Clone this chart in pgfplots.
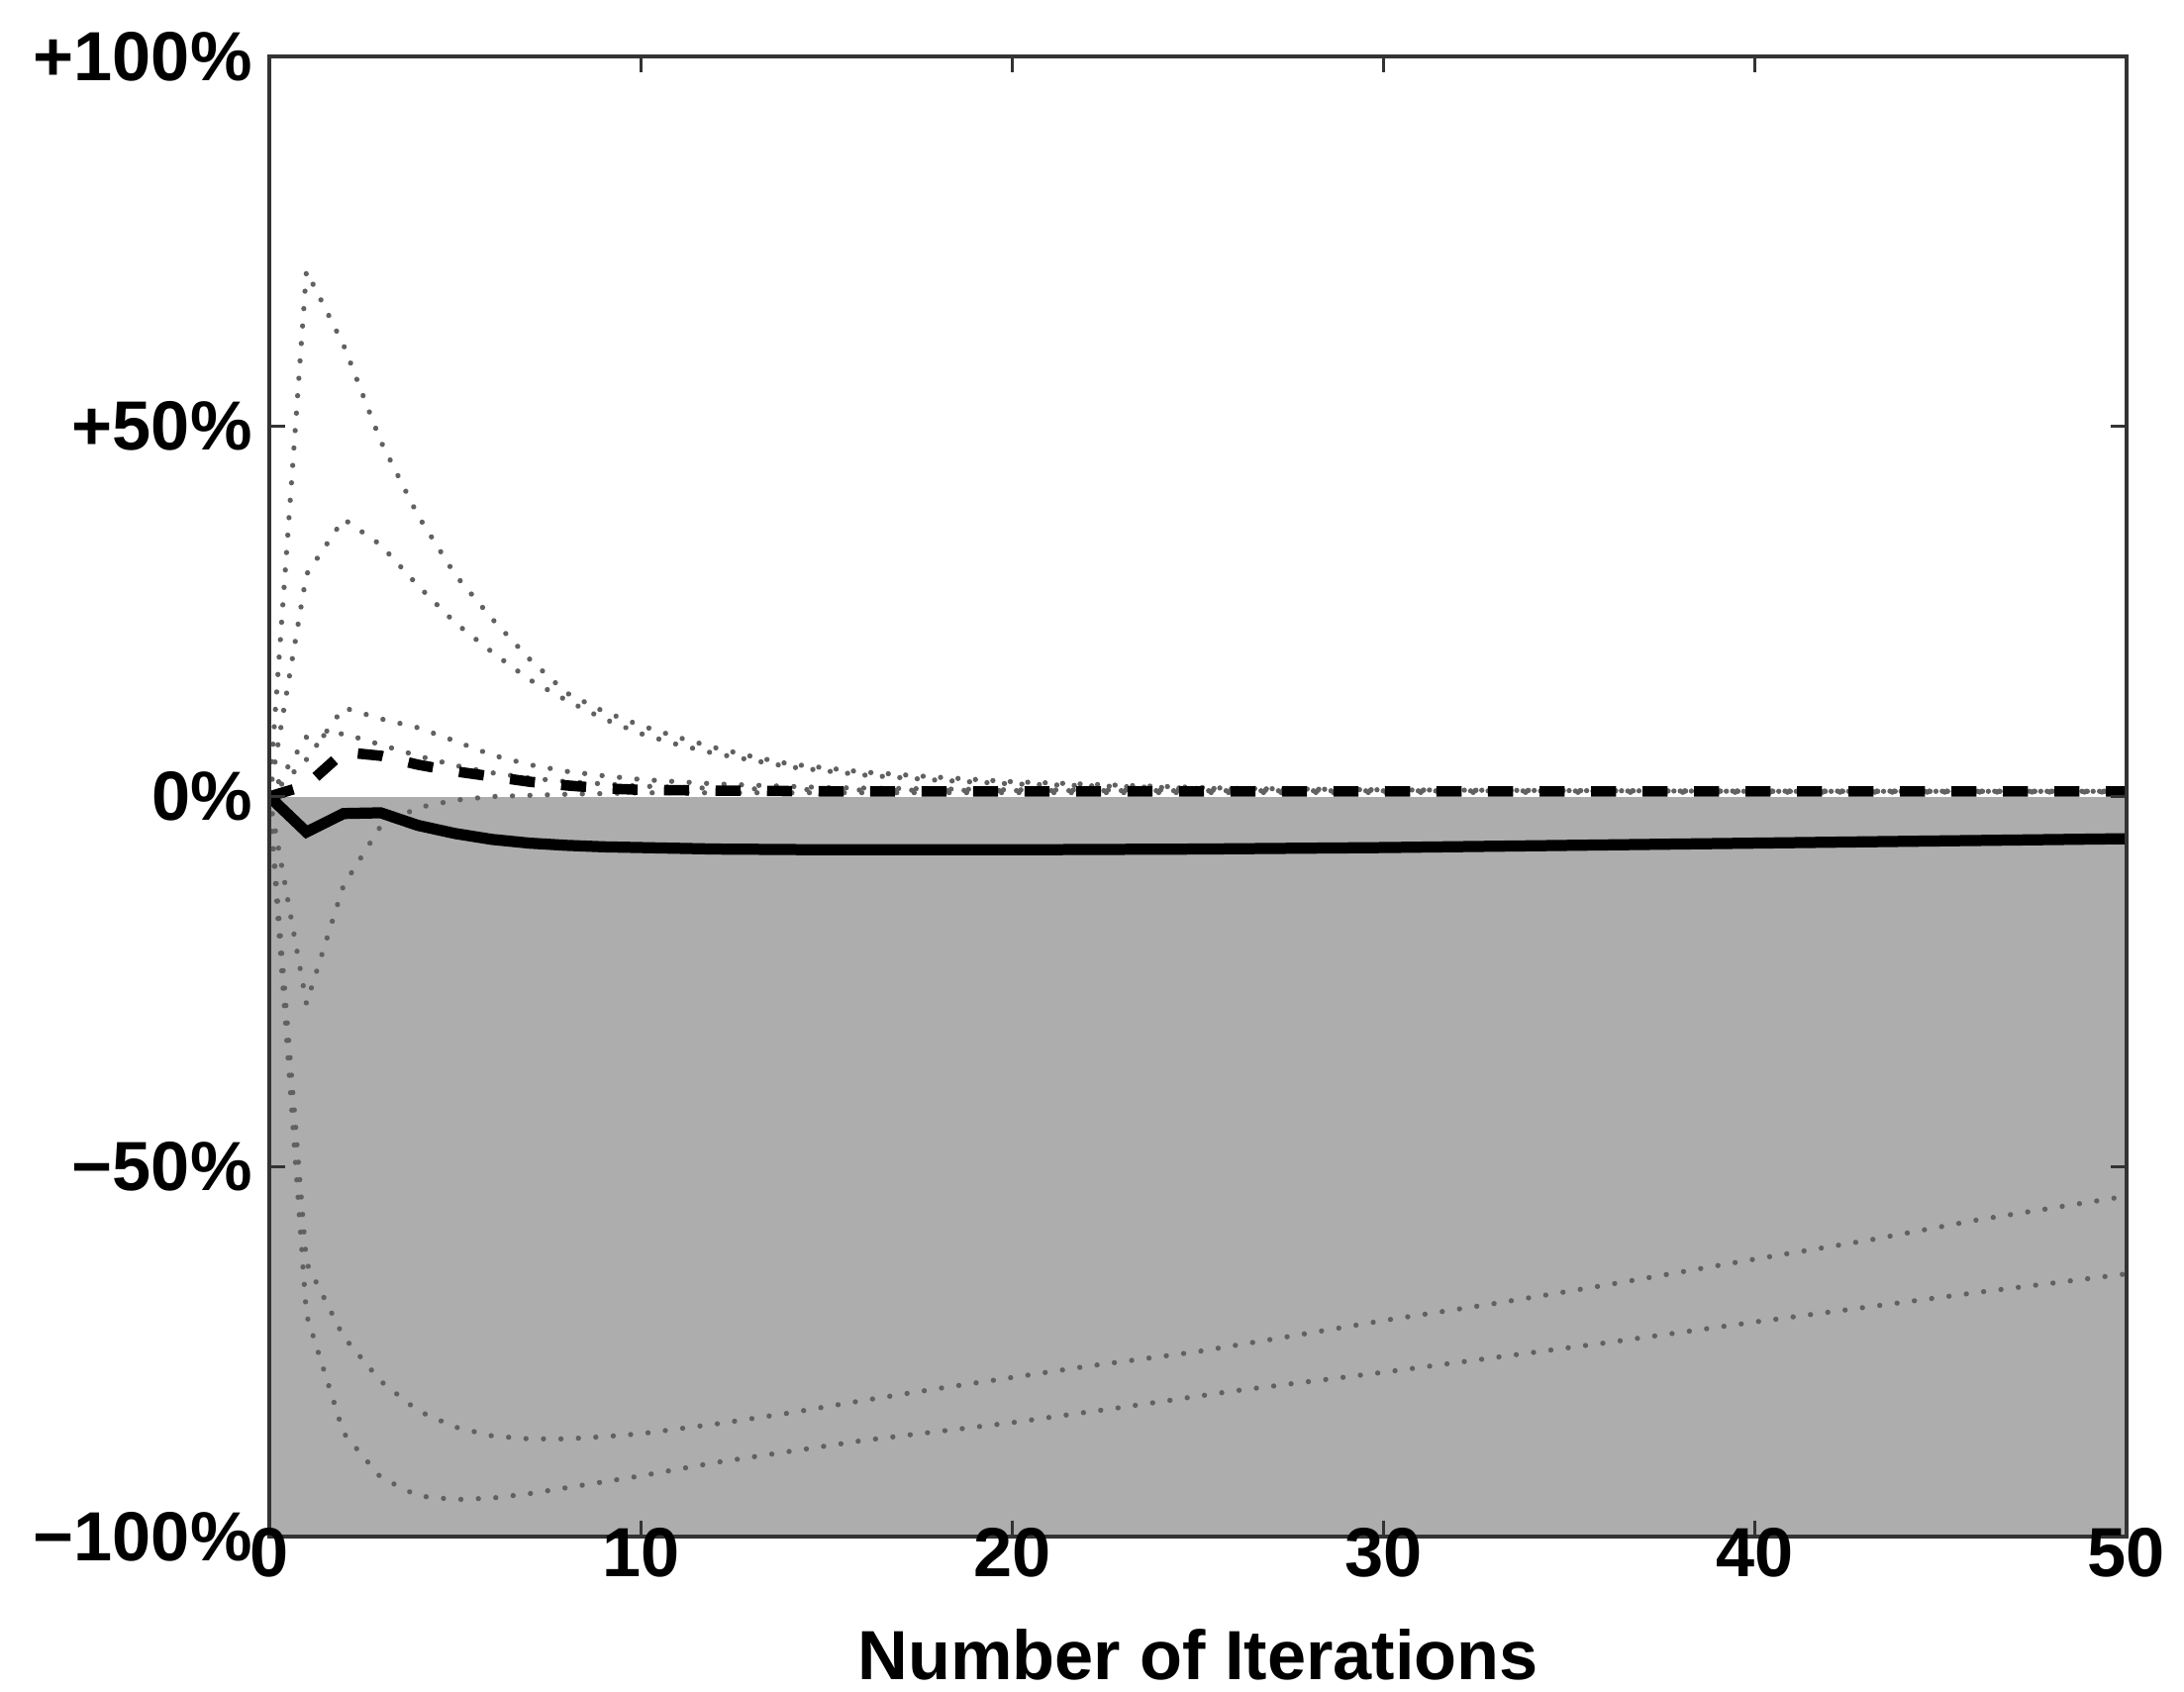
\documentclass[border=0pt]{standalone}
\usepackage{fontspec}
\setmainfont{Liberation Sans}
\usepackage{pgfplots}
\pgfplotsset{compat=1.18}
\begin{document}
\begin{tikzpicture}
\useasboundingbox (-13.6mm,-7.8mm) rectangle (96.7mm,77.6mm);
\begin{axis}[
  at={(0,0)}, anchor=south west,
  scale only axis, width=93.8mm, height=74.75mm,
  xmin=0, xmax=50, ymin=-100, ymax=100,
  xtick={0,10,20,30,40,50}, xticklabels={0,10,20,30,40,50},
  ytick={-100,-50,0,50,100}, yticklabels={−100\%,−50\%,0\%,+50\%,+100\%},
  tick align=inside, major tick length=0.8mm,
  tick style={black!80, line width=0.4pt},
  axis line style={black!80, line width=0.5pt},
  ticklabel style={font=\bfseries},
  xticklabel style={inner sep=0pt, yshift=0.5mm},
  yticklabel style={inner sep=0.8mm},
  xlabel={Number of Iterations},
  xlabel style={font=\bfseries, at={(axis description cs:0.5,0)}, anchor=north, yshift=-4.6mm, inner sep=0pt},
  axis on top,
  dotline/.style={black!62, line width=0.75pt, line cap=round, dash pattern=on 0.01pt off 2.5pt},
]
% shaded region below 0%
\addplot[draw=none, fill=black!32] coordinates {(0,-100) (0,0) (50,0) (50,-100)} -- cycle;

% dotted curves
\addplot[dotline] coordinates {(0,0)(1,71)(2,61)(3,48)(4,38)(5,30)(6,24)(7,18.6)(8,14)(9,11.5)(10,9.6)(11,8)(12,6.6)(13,5.4)(14,4.4)(16,3.3)(18,2.6)(20,2)(23,1.5)(26,1.1)(30,0.9)(35,0.8)(40,0.7)(45,0.7)(50,0.7)};
\addplot[dotline] coordinates {(0,0)(1,30)(2,37.5)(3,34)(4,28.5)(5,23.5)(6,19.5)(7,15.8)(8,13)(9,10.5)(10,8.5)(11,7)(12,5.8)(14,4)(16,2.9)(18,2.2)(20,1.7)(25,1.1)(30,0.9)(40,0.7)(50,0.7)};
\addplot[dotline] coordinates {(0,0)(1,5)(2,12)(3,10.5)(4,9.3)(5,7.5)(6,5.6)(7,4.3)(8,3.4)(9,2.8)(10,2.3)(12,1.7)(15,1.2)(20,0.9)(30,0.8)(50,0.7)};
\addplot[dotline] coordinates {(0,0)(1,8)(2,8.5)(3,7)(4,5.5)(5,4.2)(6,3.2)(7,2.5)(8,2)(10,1.4)(12,1.1)(15,0.9)(20,0.8)(50,0.7)};
\addplot[dotline] coordinates {(0,0)(1,-28)(2,-12)(3,-4)(4,-1.5)(5,-0.5)(6,0)(8,0.3)(10,0.5)(50,0.6)};
\addplot[dotline] coordinates {(0,0)(1,-63)(2,-73)(3,-79)(4,-83)(5,-85.2)(6,-86.4)(7,-86.8)(8,-86.8)(9,-86.5)(10,-86.1)(12,-84.8)(14,-83.3)(16,-81.6)(18,-80)(20,-78.5)(22,-77)(25,-75)(28,-72.5)(30,-70.8)(33,-68.5)(36,-66)(40,-62.5)(43,-60)(46,-57.2)(50,-54)};
\addplot[dotline] coordinates {(0,0)(1,-70)(2,-86)(3,-92)(4,-94.5)(5,-95)(6,-94.8)(7,-94.2)(8,-93.4)(9,-92.6)(10,-91.8)(12,-90)(14,-88.5)(16,-87)(18,-85.8)(20,-84.6)(23,-82.5)(26,-80.3)(30,-77.8)(33,-75.8)(36,-73.8)(40,-71)(43,-69)(46,-67)(50,-64.5)};

% dashed (thick)
\addplot[black, line width=1.5pt, dash pattern=on 3.6pt off 3.8pt] coordinates {(0,0)(1,1.5)(2,6)(3,5.5)(4,4.3)(5,3.4)(6,2.7)(7,2.0)(8,1.5)(9,1.1)(10,0.9)(12,0.8)(15,0.7)(20,0.7)(30,0.7)(40,0.7)(50,0.7)};
% solid (thick)
\addplot[black, line width=1.6pt] coordinates {(0,0)(1,-4.8)(2,-2.3)(3,-2.2)(4,-3.9)(5,-5.0)(6,-5.8)(7,-6.3)(8,-6.6)(9,-6.8)(10,-6.9)(12,-7.1)(15,-7.2)(20,-7.2)(25,-7.1)(30,-6.9)(35,-6.6)(40,-6.3)(45,-6)(50,-5.7)};
\end{axis}
\end{tikzpicture}
\end{document}
